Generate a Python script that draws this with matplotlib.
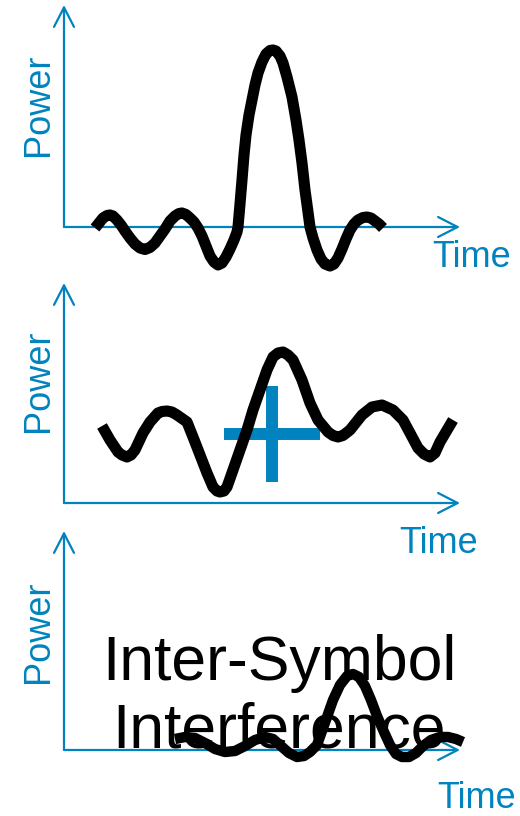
import matplotlib
matplotlib.use("Agg")
import matplotlib.pyplot as plt

plt.rcParams['font.family'] = ['Liberation Sans', 'DejaVu Sans']

BLUE = '#0083BE'
W, H = 520, 816

# ---- data (time in samples along the axis, power in samples above the axis) ----
p1_time = [31, 35, 39, 43, 46, 49, 53, 57, 61, 66, 71, 76, 81, 86, 91, 96, 101, 106, 111,
           115, 118, 122, 126, 130, 134, 138, 142, 146, 150, 154, 158, 162, 166, 170, 173,
           174, 176, 178, 180, 182, 185, 188, 191, 194, 198, 202, 206, 209, 212, 216, 219,
           223, 228, 232, 235, 238, 241, 244, 246,
           249, 253, 257, 261, 266, 270, 274, 278, 282, 286, 290, 294, 299, 303, 307, 311,
           315, 319]
p1_power = [-1, 4, 9, 11.5, 12, 11, 7, 2, -4, -11, -17, -21, -22.5, -20.5, -16, -9, -2, 6, 11,
            13.5, 14, 12.5, 9, 5, -1, -9, -19, -29, -35, -38, -36, -30, -22, -13, -5,
            0, 23, 47, 72, 92, 112, 127, 142, 154, 165, 173, 176.5, 177, 176, 171, 164,
            150, 130, 107, 87, 64, 37, 15, 0,
            -11, -23, -32, -37, -39, -37, -31, -22, -12, -3, 3, 7, 9.5, 10, 9, 6,
            3, -1]

p2_time = [38, 46, 54, 58, 63, 67, 71, 79, 86, 94, 98, 103, 108, 113, 123, 129, 136, 143,
           149, 153, 156, 160, 163, 169,
           176, 183, 189, 196, 203, 209, 214, 219, 224, 229, 238, 246, 254, 264, 269, 274,
           279, 286, 298, 308, 318, 329, 339, 346, 354, 360, 366, 371, 376, 389]
p2_power = [77, 63, 51, 48, 46, 48, 53, 70, 81, 90, 91.5, 92, 91, 88, 81, 66, 48, 30,
            16, 12, 11, 12, 16, 33,
            53, 73, 93, 113, 133, 146, 150, 151, 148, 143, 123, 100, 83, 71, 67.5, 66,
            67.5, 73, 88, 96, 98, 93, 83, 70, 55, 49, 46, 50, 61, 83]
p2_plus = (208, 69)

p3_time = [111, 121, 131, 141, 151, 161, 171, 181, 191, 201, 209, 217, 225, 233, 240, 246,
           253, 258, 263, 269, 276, 283, 289, 295, 301, 307, 313, 320, 326, 332, 338, 345,
           352, 359, 367, 376, 384, 392, 399]
p3_power = [11, 13, 12, 7, 1, -2, -1, 4, 10, 13, 11, 4, -3, -7, -6, -2,
            5, 19, 33, 50, 65, 74, 76, 73, 64, 50, 34, 18, 5, -4, -7, -7,
            -3, 4, 10, 13, 13, 11, 8]

x_label = 'Time'
y_label = 'Power'
isi_lines = ['Inter-Symbol', 'Interference']

# ---- layout (pixels) ----
panels = [
    dict(origin=227, tip=5, t=p1_time, p=p1_power, time_xy=(472, 267), pow_xy=(48, 105), lw=8.0),
    dict(origin=503, tip=283, t=p2_time, p=p2_power, time_xy=(439, 553), pow_xy=(48, 381), lw=8.0),
    dict(origin=750, tip=531, t=p3_time, p=p3_power, time_xy=(477, 808), pow_xy=(48, 632), lw=7.5),
]
X0, X1 = 64, 460

fig = plt.figure(figsize=(W / 100, H / 100), dpi=100)

def fx(x):
    return x / W

def fy(y):
    return 1 - y / H

axes = []
for pn in panels:
    hpx = pn['origin'] - pn['tip']
    ax = fig.add_axes([fx(X0), fy(pn['origin']), (X1 - X0) / W, hpx / H])
    ax.set_xlim(0, X1 - X0)
    ax.set_ylim(0, hpx)
    ax.axis('off')
    arrow = dict(arrowstyle='->,head_length=1.4,head_width=0.72', lw=1.6, color=BLUE,
                 shrinkA=0, shrinkB=0, mutation_scale=10)
    ax.annotate('', xy=(0, 1), xytext=(0, 0), xycoords='axes fraction',
                textcoords='axes fraction', arrowprops=arrow)
    ax.annotate('', xy=(1, 0), xytext=(0, 0), xycoords='axes fraction',
                textcoords='axes fraction', arrowprops=arrow)
    ax.plot(pn['t'], pn['p'], color='black', lw=pn['lw'], solid_capstyle='butt',
            solid_joinstyle='round', clip_on=False, zorder=5)
    fig.text(fx(pn['time_xy'][0]), fy(pn['time_xy'][1]), x_label, color=BLUE,
             fontsize=26, ha='center', va='baseline')
    fig.text(fx(pn['pow_xy'][0]), fy(pn['pow_xy'][1]), y_label, color=BLUE,
             fontsize=26, ha='center', va='baseline', rotation=90,
             rotation_mode='anchor')
    axes.append(ax)

# plus sign in panel 2
axes[1].plot([p2_plus[0]], [p2_plus[1]], marker='+', ms=69, mew=8.6, color=BLUE,
             clip_on=False, zorder=4)

# ISI text
fig.text(fx(279), fy(680), isi_lines[0], fontsize=45, color='black',
         ha='center', va='baseline', zorder=10)
fig.text(fx(279), fy(748), isi_lines[1], fontsize=45, color='black',
         ha='center', va='baseline', zorder=10)

fig.savefig('out.png', dpi=100)
